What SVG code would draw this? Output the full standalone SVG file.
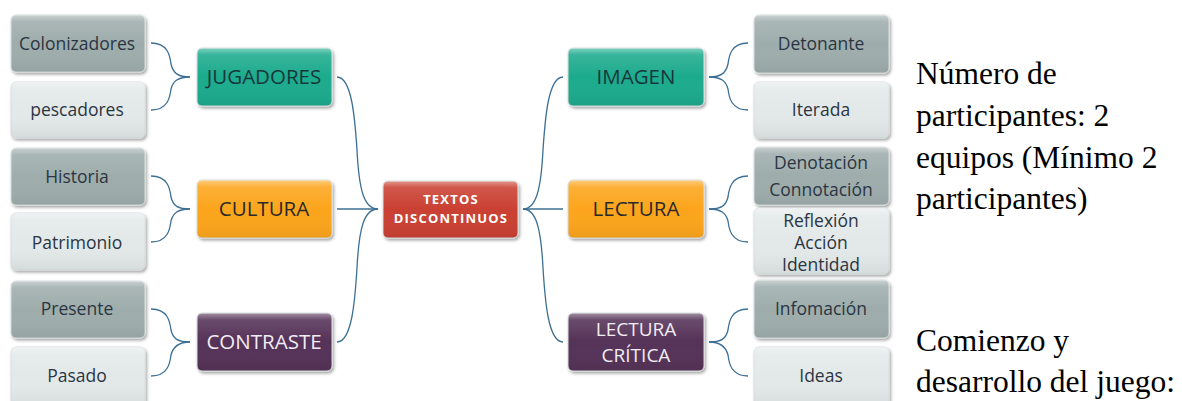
<svg xmlns="http://www.w3.org/2000/svg" width="1182" height="401" viewBox="0 0 1182 401">
<style>
.box{stroke:#d8dede;stroke-width:1;filter:url(#sh)}
.dark{fill:#9eadac}
.light{fill:#e3e9e9}
.teal{fill:#1eab8d}
.orange{fill:#fca51c}
.purple{fill:#553358}
.red{fill:#ca4032}
.gloss{fill:url(#gl);pointer-events:none}
.lt{font-family:"Open Sans","Noto Sans",sans-serif;font-size:17.5px;fill:#2b3542;text-anchor:middle;dominant-baseline:central}
.mt{font-family:"Open Sans","Noto Sans",sans-serif;font-size:20.5px;text-anchor:middle;dominant-baseline:central}
.ct{font-family:"Open Sans","Noto Sans",sans-serif;font-size:13px;letter-spacing:1.2px;font-weight:bold;fill:#ffffff;text-anchor:middle;dominant-baseline:central}
.side{font-family:"Liberation Serif","Times New Roman",serif;font-size:31.5px;fill:#000}
.con{fill:none;stroke:#3d6f94;stroke-width:1.3}
</style>
<defs>
<filter id="sh" x="-10%" y="-15%" width="125%" height="140%">
<feDropShadow dx="1.5" dy="2" stdDeviation="1.5" flood-color="#000" flood-opacity="0.35"/>
</filter>
<linearGradient id="gl" x1="0" y1="0" x2="0" y2="1">
<stop offset="0" stop-color="#fff" stop-opacity="0.45"/>
<stop offset="0.12" stop-color="#fff" stop-opacity="0.12"/>
<stop offset="0.5" stop-color="#fff" stop-opacity="0"/>
<stop offset="1" stop-color="#000" stop-opacity="0.06"/>
</linearGradient>
</defs>
<rect width="1182" height="401" fill="#ffffff"/>

<g id="connectors">
<path class="con" d="M151,43 C168,43 170,56 171,64 C173,73 178,77 190,77"/>
<path class="con" d="M151,110 C168,110 170,97 171,89 C173,81 178,77 190,77"/>
<path class="con" d="M151,176 C168,176 170,189 171,197 C173,206 178,209 190,209"/>
<path class="con" d="M151,242 C168,242 170,229 171,221 C173,213 178,209 190,209"/>
<path class="con" d="M151,309 C168,309 170,322 171,330 C173,339 178,342 190,342"/>
<path class="con" d="M151,376 C168,376 170,363 171,355 C173,347 178,342 190,342"/>
<path class="con" d="M337,77 C352,77 355,120 357,150 C359,190 364,209 378,209"/>
<path class="con" d="M337,209 L378,209"/>
<path class="con" d="M337,342 C352,342 355,300 357,268 C359,228 364,209 378,209"/>
<path class="con" d="M563,77 C548,77 545,120 543,150 C541,190 536,209 523,209"/>
<path class="con" d="M563,209 L523,209"/>
<path class="con" d="M563,342 C548,342 545,300 543,268 C541,228 536,209 523,209"/>
<path class="con" d="M748,43 C731,43 729,56 728,64 C726,73 721,77 709,77"/>
<path class="con" d="M748,110 C731,110 729,97 728,89 C726,81 721,77 709,77"/>
<path class="con" d="M748,176 C731,176 729,189 728,197 C726,206 721,209 709,209"/>
<path class="con" d="M748,242 C731,242 729,229 728,221 C726,213 721,209 709,209"/>
<path class="con" d="M748,309 C731,309 729,322 728,330 C726,339 721,342 709,342"/>
<path class="con" d="M748,376 C731,376 729,363 728,355 C726,347 721,342 709,342"/>
</g>

<g id="center">
<rect class="box red" x="383" y="181" width="135" height="57" rx="5"/>
<rect class="gloss" x="383" y="181" width="135" height="57" rx="5"/>
<text class="ct"><tspan x="451" y="199">TEXTOS</tspan><tspan x="451" y="218">DISCONTINUOS</tspan></text>
</g>

<g id="jugadores">
<rect class="box teal" x="197" y="48" width="135" height="58" rx="5"/>
<rect class="gloss" x="197" y="48" width="135" height="58" rx="5"/>
<text class="mt" x="264" y="76" fill="#17373b">JUGADORES</text>
</g>
<g id="cultura">
<rect class="box orange" x="197" y="180" width="135" height="58" rx="5"/>
<rect class="gloss" x="197" y="180" width="135" height="58" rx="5"/>
<text class="mt" x="264" y="208" fill="#2a2a2a">CULTURA</text>
</g>
<g id="contraste">
<rect class="box purple" x="197" y="313" width="135" height="58" rx="5"/>
<rect class="gloss" x="197" y="313" width="135" height="58" rx="5"/>
<text class="mt" x="264" y="341" fill="#f1ecf2">CONTRASTE</text>
</g>
<g id="imagen">
<rect class="box teal" x="568" y="48" width="136" height="58" rx="5"/>
<rect class="gloss" x="568" y="48" width="136" height="58" rx="5"/>
<text class="mt" x="636" y="76" fill="#17373b">IMAGEN</text>
</g>
<g id="lectura">
<rect class="box orange" x="568" y="180" width="136" height="58" rx="5"/>
<rect class="gloss" x="568" y="180" width="136" height="58" rx="5"/>
<text class="mt" x="636" y="208" fill="#2a2a2a">LECTURA</text>
</g>
<g id="lectura-critica">
<rect class="box purple" x="568" y="313" width="136" height="58" rx="5"/>
<rect class="gloss" x="568" y="313" width="136" height="58" rx="5"/>
<text class="mt" fill="#f1ecf2" style="font-size:19px"><tspan x="636" y="329">LECTURA</tspan><tspan x="636" y="355">CRÍTICA</tspan></text>
</g>

<g id="colonizadores">
<rect class="box dark" x="11" y="15" width="134" height="57" rx="5"/>
<rect class="gloss" x="11" y="15" width="134" height="57" rx="5"/>
<text class="lt" x="77" y="43">Colonizadores</text>
</g>
<g id="pescadores">
<rect class="box light" x="11" y="82" width="134" height="56" rx="5"/>
<rect class="gloss" x="11" y="82" width="134" height="56" rx="5"/>
<text class="lt" x="77" y="109">pescadores</text>
</g>
<g id="historia">
<rect class="box dark" x="11" y="148" width="134" height="57" rx="5"/>
<rect class="gloss" x="11" y="148" width="134" height="57" rx="5"/>
<text class="lt" x="77" y="176">Historia</text>
</g>
<g id="patrimonio">
<rect class="box light" x="11" y="213" width="134" height="57" rx="5"/>
<rect class="gloss" x="11" y="213" width="134" height="57" rx="5"/>
<text class="lt" x="77" y="242">Patrimonio</text>
</g>
<g id="presente">
<rect class="box dark" x="11" y="281" width="134" height="57" rx="5"/>
<rect class="gloss" x="11" y="281" width="134" height="57" rx="5"/>
<text class="lt" x="77" y="308">Presente</text>
</g>
<g id="pasado">
<rect class="box light" x="11" y="347" width="134" height="60" rx="5"/>
<rect class="gloss" x="11" y="347" width="134" height="60" rx="5"/>
<text class="lt" x="77" y="375">Pasado</text>
</g>

<g id="detonante">
<rect class="box dark" x="754" y="15" width="135" height="58" rx="5"/>
<rect class="gloss" x="754" y="15" width="135" height="58" rx="5"/>
<text class="lt" x="821" y="43">Detonante</text>
</g>
<g id="iterada">
<rect class="box light" x="754" y="82" width="135" height="56" rx="5"/>
<rect class="gloss" x="754" y="82" width="135" height="56" rx="5"/>
<text class="lt" x="821" y="109">Iterada</text>
</g>
<g id="denotacion">
<rect class="box dark" x="754" y="147" width="135" height="58" rx="5"/>
<rect class="gloss" x="754" y="147" width="135" height="58" rx="5"/>
<text class="lt"><tspan x="821" y="162">Denotación</tspan><tspan x="821" y="189">Connotación</tspan></text>
</g>
<g id="reflexion">
<rect class="box light" x="754" y="208" width="135" height="66" rx="5"/>
<rect class="gloss" x="754" y="208" width="135" height="66" rx="5"/>
<text class="lt"><tspan x="821" y="220">Reflexión</tspan><tspan x="821" y="242">Acción</tspan><tspan x="821" y="264">Identidad</tspan></text>
</g>
<g id="infomacion">
<rect class="box dark" x="754" y="280" width="135" height="58" rx="5"/>
<rect class="gloss" x="754" y="280" width="135" height="58" rx="5"/>
<text class="lt" x="821" y="308">Infomación</text>
</g>
<g id="ideas">
<rect class="box light" x="754" y="347" width="135" height="60" rx="5"/>
<rect class="gloss" x="754" y="347" width="135" height="60" rx="5"/>
<text class="lt" x="821" y="375">Ideas</text>
</g>

<g id="side-text">
<text class="side"><tspan x="916" y="84">Número de</tspan><tspan x="916" y="126">participantes: 2</tspan><tspan x="916" y="168">equipos (Mínimo 2</tspan><tspan x="916" y="209">participantes)</tspan></text>
<text class="side"><tspan x="916" y="351">Comienzo y</tspan><tspan x="916" y="392">desarrollo del juego:</tspan></text>
</g>
</svg>
